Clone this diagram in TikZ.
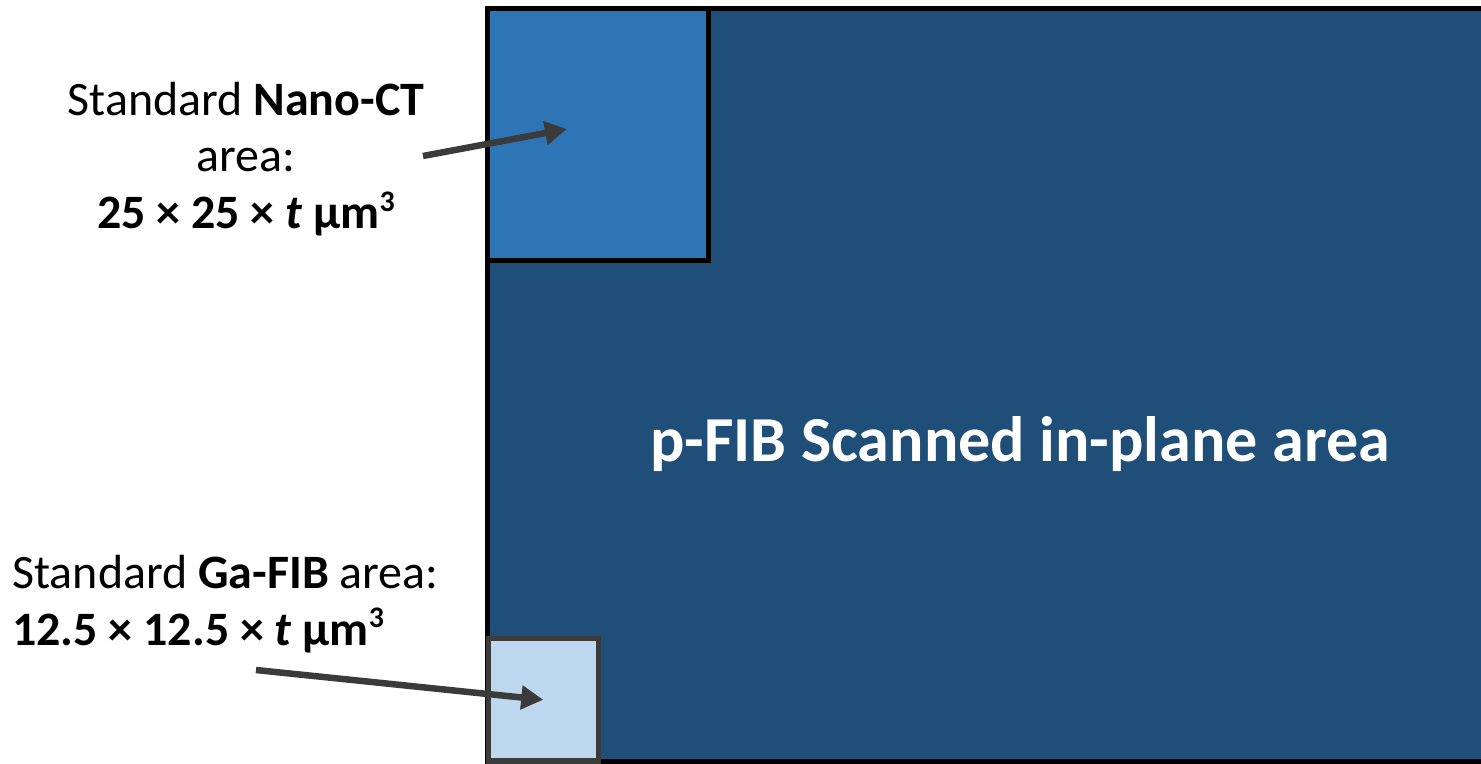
\documentclass[tikz,border=0pt]{standalone}
\usepackage{fontspec}
\setmainfont{Carlito}
\usetikzlibrary{arrows.meta}

\definecolor{fibdark}{HTML}{1F4E79}
\definecolor{ctblue}{HTML}{2E75B6}
\definecolor{gablue}{HTML}{BDD7EE}
\definecolor{pointergray}{HTML}{3B3B3B}

\newcommand{\cubed}{\raisebox{0.36em}{\fontsize{17}{17}\selectfont 3}}

\begin{document}
\begin{tikzpicture}[x=0.02cm, y=-0.02cm,
	area/.style={draw, line width=2.85pt, inner sep=0pt, outer sep=0pt},
	tag/.style={font=\fontsize{27.3}{32.2}\selectfont, inner sep=0pt},
	pointer/.style={pointergray, line width=3.7pt,
		-{Triangle[length=0.44cm, width=0.46cm]}}]

\useasboundingbox (0,0) rectangle (1481,764);
\clip (0,0) rectangle (1481,764);

% Zonas
\node[area, fill=fibdark, minimum width=20.25cm, minimum height=15.07cm] (pfib) at (993.75,385.25) {};
\node[area, fill=ctblue, minimum width=4.43cm, minimum height=5.04cm] (ct) at (598.25,134.5) {};
\node[area, draw=pointergray, fill=gablue, minimum width=2.21cm, minimum height=2.45cm] (ga) at (543.25,699.75) {};

\node[font=\fontsize{36.5}{40}\selectfont\bfseries, text=white, inner sep=0pt, anchor=base] (pfibtag) at (1020,461) {p-FIB Scanned in-plane area};

% Textos
\node[tag, align=center] (cttag) at (246,159) {Standard \textbf{Nano-CT}\\area:\\\textbf{25 × 25 × \textit{t} µm\cubed}};
\node[tag, align=left, anchor=north west] (gatag) at (12,555) {Standard \textbf{Ga-FIB} area:\\\textbf{12.5 × 12.5 × \textit{t} µm\cubed}};

% Flechas
\coordinate (ctstart) at (423,156);
\coordinate (cttip) at (567,129);
\coordinate (gastart) at (256,670);
\draw[pointer] (ctstart) -- (cttip);
\draw[pointer] (gastart) -- (ga.center);
\end{tikzpicture}
\end{document}
